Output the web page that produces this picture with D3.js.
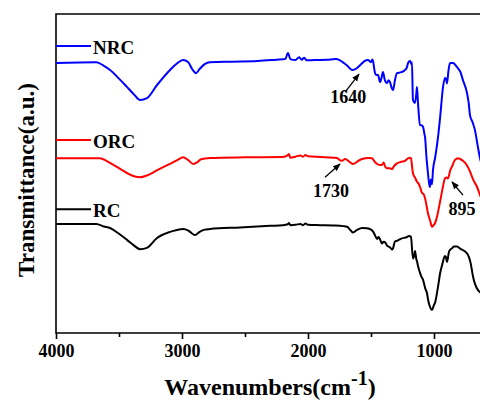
<!DOCTYPE html>
<html>
<head>
<meta charset="utf-8">
<script src="https://cdn.jsdelivr.net/npm/d3@7"></script>
<style>
  body { margin: 0; background: #fff; }
  svg { display: block; }
  text { font-family: "Liberation Serif", "Times New Roman", serif; font-weight: bold; }
</style>
</head>
<body>
<div id="chart"></div>
<script>
// spectra: [wavenumber (cm-1), transmittance (a.u.)]
var nrc = [[4000,84.4],[3680,84.6],[3620,83.5],[3571,82.2],[3500,79.5],[3437,76.9],[3380,74.5],[3333,72.8],[3278,73.4],
  [3198,77.5],[3095,82.2],[3040,84.2],[2992,85.3],[2950,84.6],[2920,82.5],[2889,81.2],[2860,82.5],[2820,84],[2778,84.6],
  [2600,84.8],[2400,85],[2250,85.4],[2180,85.6],[2159,87.5],[2140,85.6],[2100,85.3],[2070,86.2],[2050,85.4],[2030,86],
  [2010,85.2],[1950,85.3],[1850,85.4],[1780,85.6],[1746,85.2],[1710,84.2],[1690,83.6],[1660,82.4],[1643,82.2],[1610,82.8],
  [1587,83.7],[1550,85],[1524,85.3],[1500,84.6],[1490,85.5],[1484,85],[1468,81.2],[1455,80.6],[1444,80.6],[1428,78.4],
  [1415,80],[1405,81.6],[1390,79],[1373,78.1],[1360,79],[1349,78.4],[1335,76.5],[1325,75.9],[1310,79],[1294,81.2],
  [1260,81.5],[1230,82.2],[1215,83],[1206,84.4],[1190,85],[1180,84],[1175,84.6],[1167,72.8],[1151,71.9],[1140,75],
  [1135,76.9],[1127,71.9],[1111,65],[1095,64.8],[1087,64.4],[1075,62],[1071,61.2],[1060,55],[1048,50],[1040,47],
  [1032,45.6],[1025,48],[1016,46.5],[1008,50.9],[990,55],[968,61.2],[950,68],[928,77],[913,79.7],[905,79.5],[897,78],
  [885,82],[873,84.4],[849,84.4],[817,83.1],[790,81.5],[770,79],[738,75],[725,72],[714,68],[695,66],[675,63.4],
  [651,58],[635,54.7],[600,50],[550,45]];

var orc = [[4000,54.6],[3650,54.6],[3600,53.8],[3520,52],[3437,50],[3380,49],[3333,48.7],[3280,49.2],[3200,50.8],
  [3100,52.8],[3030,54.2],[2992,54.9],[2950,54],[2910,52.8],[2880,53.3],[2850,54.3],[2778,54.7],[2500,54.9],[2200,55],
  [2160,55.6],[2151,55.9],[2140,54.8],[2100,55.1],[2060,55.5],[2040,55.1],[2020,55.6],[2000,55.2],[1900,55],[1800,54.8],
  [1770,54.7],[1745,54],[1730,53.8],[1706,54.4],[1670,53.5],[1643,52.8],[1600,53.8],[1571,54.4],[1520,54.7],[1492,54.6],
  [1470,53.5],[1452,52.8],[1430,52.5],[1413,52.5],[1400,53.3],[1385,51.8],[1373,51.5],[1350,51.5],[1333,51.2],[1320,52],
  [1294,53],[1260,53.5],[1230,53.8],[1206,54.6],[1190,54.8],[1183,54.6],[1167,49.9],[1150,48.5],[1135,47.3],[1120,46.5],
  [1111,45.7],[1095,43.7],[1085,43.5],[1071,42.1],[1060,40],[1048,37.4],[1030,35],[1016,33.2],[1005,33.6],[992,34.3],
  [975,36.5],[952,41],[930,45.5],[913,48.3],[900,48.6],[889,48.3],[870,51],[857,52],[835,54],[809,54.6],[790,54.3],
  [770,53.8],[740,52.5],[714,50.4],[690,48],[659,45.7],[635,43.1],[600,40]];

var rc = [[4000,34.1],[3680,34.1],[3620,33.3],[3571,32.8],[3500,31],[3437,29.1],[3380,27.3],[3333,26.2],[3278,26.6],
  [3198,29.7],[3095,31.6],[3040,32.2],[2992,32.5],[2950,32],[2920,31.1],[2897,30.6],[2860,31.6],[2820,32.3],[2778,32.5],
  [2540,33],[2300,33.5],[2200,33.7],[2160,34],[2151,34.4],[2140,33.7],[2100,33.8],[2060,34.1],[2040,33.7],[2020,34.2],
  [2000,33.8],[1900,33.7],[1800,33.6],[1720,33.4],[1690,33.2],[1660,32],[1643,31.4],[1610,32.2],[1571,32.8],[1532,32.7],
  [1500,32.3],[1480,31.5],[1468,30.5],[1452,29.4],[1440,30],[1428,29.2],[1413,28],[1400,28.5],[1385,28.2],[1373,27.3],
  [1350,26.8],[1333,26.1],[1325,26.5],[1310,28.6],[1294,28.8],[1260,29.5],[1214,30],[1200,30.3],[1183,30.1],[1167,23.3],
  [1155,24.6],[1151,25.6],[1140,23],[1135,22.4],[1125,20.6],[1111,18.8],[1100,17.6],[1087,16.6],[1070,14],[1056,12.5],
  [1045,10],[1032,8.2],[1016,7.2],[1000,8.8],[992,9.4],[968,14.5],[950,19],[937,21],[913,24.1],[905,23.7],[897,22.2],
  [880,25.5],[857,26.5],[840,27],[817,27],[790,26.3],[738,24.9],[710,22],[690,17.6],[651,13.4],[635,12.8],[600,11]];

var seriesNames = ["NRC", "ORC", "RC"];
var seriesColors = ["#0000ff", "#ff0000", "#000000"];
// legend line level for each series, in transmittance units
var legendLevels = [89.7, 60.3, 38.7];

var majorTicks = [4000, 3000, 2000, 1000];
var minorTicks = [3500, 2500, 1500, 500];

// peak labels: [label, wavenumber of text, text level, arrow tail wn, tail level, arrow head wn, head level]
var peaks = [
  ["1640", 1680, 71.8, 1706, 75.3, 1595, 80.9],
  ["1730", 1817, 42.5, 1865, 48.7, 1746, 52.8],
  ["895", 778, 36.9, 770, 43.1, 857, 47.2]
];

var width = 480, height = 401,
    margin = {top: 14, left: 56, bottom: 68};

var svg = d3.select("#chart").append("svg")
    .attr("width", width)
    .attr("height", height);

var x = d3.scaleLinear().domain([4000, 400]).range([margin.left, margin.left + 3600 * 0.126]);
var y = d3.scaleLinear().domain([0, 100]).range([height - margin.bottom, height - margin.bottom - 320]);

var line = d3.line()
    .curve(d3.curveMonotoneX)
    .x(function(d) { return x(d[0]); })
    .y(function(d) { return y(d[1]); });

var plotBottom = height - margin.bottom;
var plotRight = x(400);

// frame
svg.append("path")
    .attr("d", "M" + plotRight + "," + margin.top + "H" + margin.left + "V" + plotBottom + "H" + plotRight)
    .attr("fill", "none")
    .attr("stroke", "#000")
    .attr("stroke-width", 1.6);

var xAxis = svg.append("g")
    .attr("transform", "translate(0," + plotBottom + ")")
    .call(d3.axisBottom(x).tickValues(majorTicks).tickSize(6).tickPadding(5).tickFormat(d3.format("d")));
xAxis.select(".domain").remove();
xAxis.selectAll(".tick line").attr("stroke-width", 1.6);
xAxis.selectAll(".tick text")
    .attr("font-size", 18)
    .attr("font-family", "Liberation Serif, serif")
    .attr("font-weight", "bold")
    .attr("fill", "#000");

var xMinor = svg.append("g")
    .attr("transform", "translate(0," + plotBottom + ")")
    .call(d3.axisBottom(x).tickValues(minorTicks).tickSize(4).tickFormat(""));
xMinor.select(".domain").remove();
xMinor.selectAll(".tick line").attr("stroke-width", 1.6);

// spectra
var data = [nrc, orc, rc];
svg.append("g")
  .selectAll("path")
  .data(data)
  .enter().append("path")
    .attr("d", line)
    .attr("fill", "none")
    .attr("stroke", function(d, i) { return seriesColors[i]; })
    .attr("stroke-width", 2)
    .attr("stroke-linejoin", "round");

// legend entries sit over each trace
var legend = svg.append("g").selectAll("g")
    .data(seriesNames)
  .enter().append("g");
legend.append("line")
    .attr("x1", margin.left)
    .attr("x2", margin.left + 35)
    .attr("y1", function(d, i) { return y(legendLevels[i]); })
    .attr("y2", function(d, i) { return y(legendLevels[i]); })
    .attr("stroke", function(d, i) { return seriesColors[i]; })
    .attr("stroke-width", 2);
legend.append("text")
    .attr("x", margin.left + 37)
    .attr("y", function(d, i) { return y(legendLevels[i]) + 8; })
    .attr("font-size", 19)
    .text(function(d) { return d; });

// peak annotations
svg.append("defs").append("marker")
    .attr("id", "arrow")
    .attr("viewBox", "0 0 10 10")
    .attr("refX", 9).attr("refY", 5)
    .attr("markerWidth", 6).attr("markerHeight", 6)
    .attr("orient", "auto")
  .append("path")
    .attr("d", "M0,1L10,5L0,9Z")
    .attr("fill", "#000");

var ann = svg.append("g").selectAll("g").data(peaks).enter().append("g");
ann.append("line")
    .attr("x1", function(d) { return x(d[3]); })
    .attr("y1", function(d) { return y(d[4]); })
    .attr("x2", function(d) { return x(d[5]); })
    .attr("y2", function(d) { return y(d[6]); })
    .attr("stroke", "#000")
    .attr("stroke-width", 1.3)
    .attr("marker-end", "url(#arrow)");
ann.append("text")
    .attr("x", function(d) { return x(d[1]); })
    .attr("y", function(d) { return y(d[2]); })
    .attr("text-anchor", "middle")
    .attr("font-size", 18)
    .text(function(d) { return d[0]; });

// axis titles
var xt = svg.append("text")
    .attr("x", 270)
    .attr("y", 395)
    .attr("text-anchor", "middle")
    .attr("font-size", 24);
xt.append("tspan").text("Wavenumbers(cm");
xt.append("tspan").attr("dy", -10).attr("font-size", 20).text("-1");
xt.append("tspan").attr("dy", 10).text(")");

svg.append("text")
    .attr("transform", "translate(34,180) rotate(-90)")
    .attr("text-anchor", "middle")
    .attr("font-size", 23)
    .text("Transmittance(a.u.)");
</script>
</body>
</html>
